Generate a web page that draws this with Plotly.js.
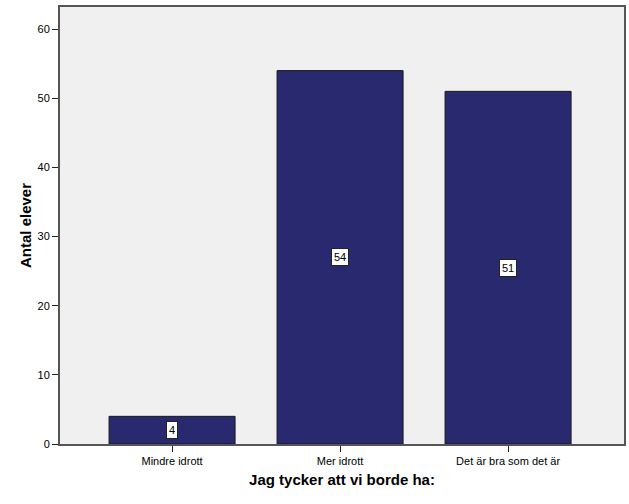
<!DOCTYPE html>
<html><head><meta charset="utf-8">
<script src="https://cdn.plot.ly/plotly-3.0.1.min.js"></script>
<style>html,body{margin:0;padding:0;background:#fff}</style>
</head><body>
<div id="chart" style="width:629px;height:504px"></div>
<script>
const categories = ["Mindre idrott", "Mer idrott", "Det är bra som det är"];
const counts = [4, 54, 51];
const yTicks = [0, 10, 20, 30, 40, 50, 60];

const trace = {
  type: 'bar',
  x: categories,
  y: counts,
  width: 0.75,
  marker: {color: '#29296f', line: {color: '#1a1a1a', width: 1}},
  hoverinfo: 'none'
};

const annotations = categories.map((c, i) => ({
  x: c, y: counts[i] / 2, xref: 'x', yref: 'y',
  text: String(counts[i]), showarrow: false,
  bgcolor: '#ffffff', bordercolor: '#222', borderwidth: 1, borderpad: 2,
  font: {family: 'Arial, Liberation Sans', size: 11, color: '#000'}
}));

const layout = {
  width: 629, height: 504,
  margin: {l: 60, r: 5, t: 7, b: 60},
  paper_bgcolor: '#ffffff',
  plot_bgcolor: '#f0f0f0',
  showlegend: false,
  font: {family: 'Arial, Liberation Sans', size: 11, color: '#000'},
  xaxis: {
    type: 'category',
    range: [-0.667, 2.69],
    showline: true, linecolor: '#555', linewidth: 2, mirror: true,
    ticks: 'outside', ticklen: 6, tickcolor: '#222', tickwidth: 1,
    showgrid: false, zeroline: false,
    tickfont: {size: 11},
    title: {text: 'Jag tycker att vi borde ha:', font: {size: 15, family: 'Arial, Liberation Sans', weight: 'bold'}, standoff: 8}
  },
  yaxis: {
    range: [0, 63.2],
    tickvals: yTicks,
    showline: true, linecolor: '#555', linewidth: 2, mirror: true,
    ticks: 'outside', ticklen: 6, tickcolor: '#222', tickwidth: 1,
    showgrid: false, zeroline: false,
    tickfont: {size: 11},
    title: {text: 'Antal elever', font: {size: 15, family: 'Arial, Liberation Sans', weight: 'bold'}, standoff: 2}
  },
  annotations: annotations
};

Plotly.newPlot('chart', [trace], layout, {displayModeBar: false, staticPlot: true});
</script>
</body></html>
